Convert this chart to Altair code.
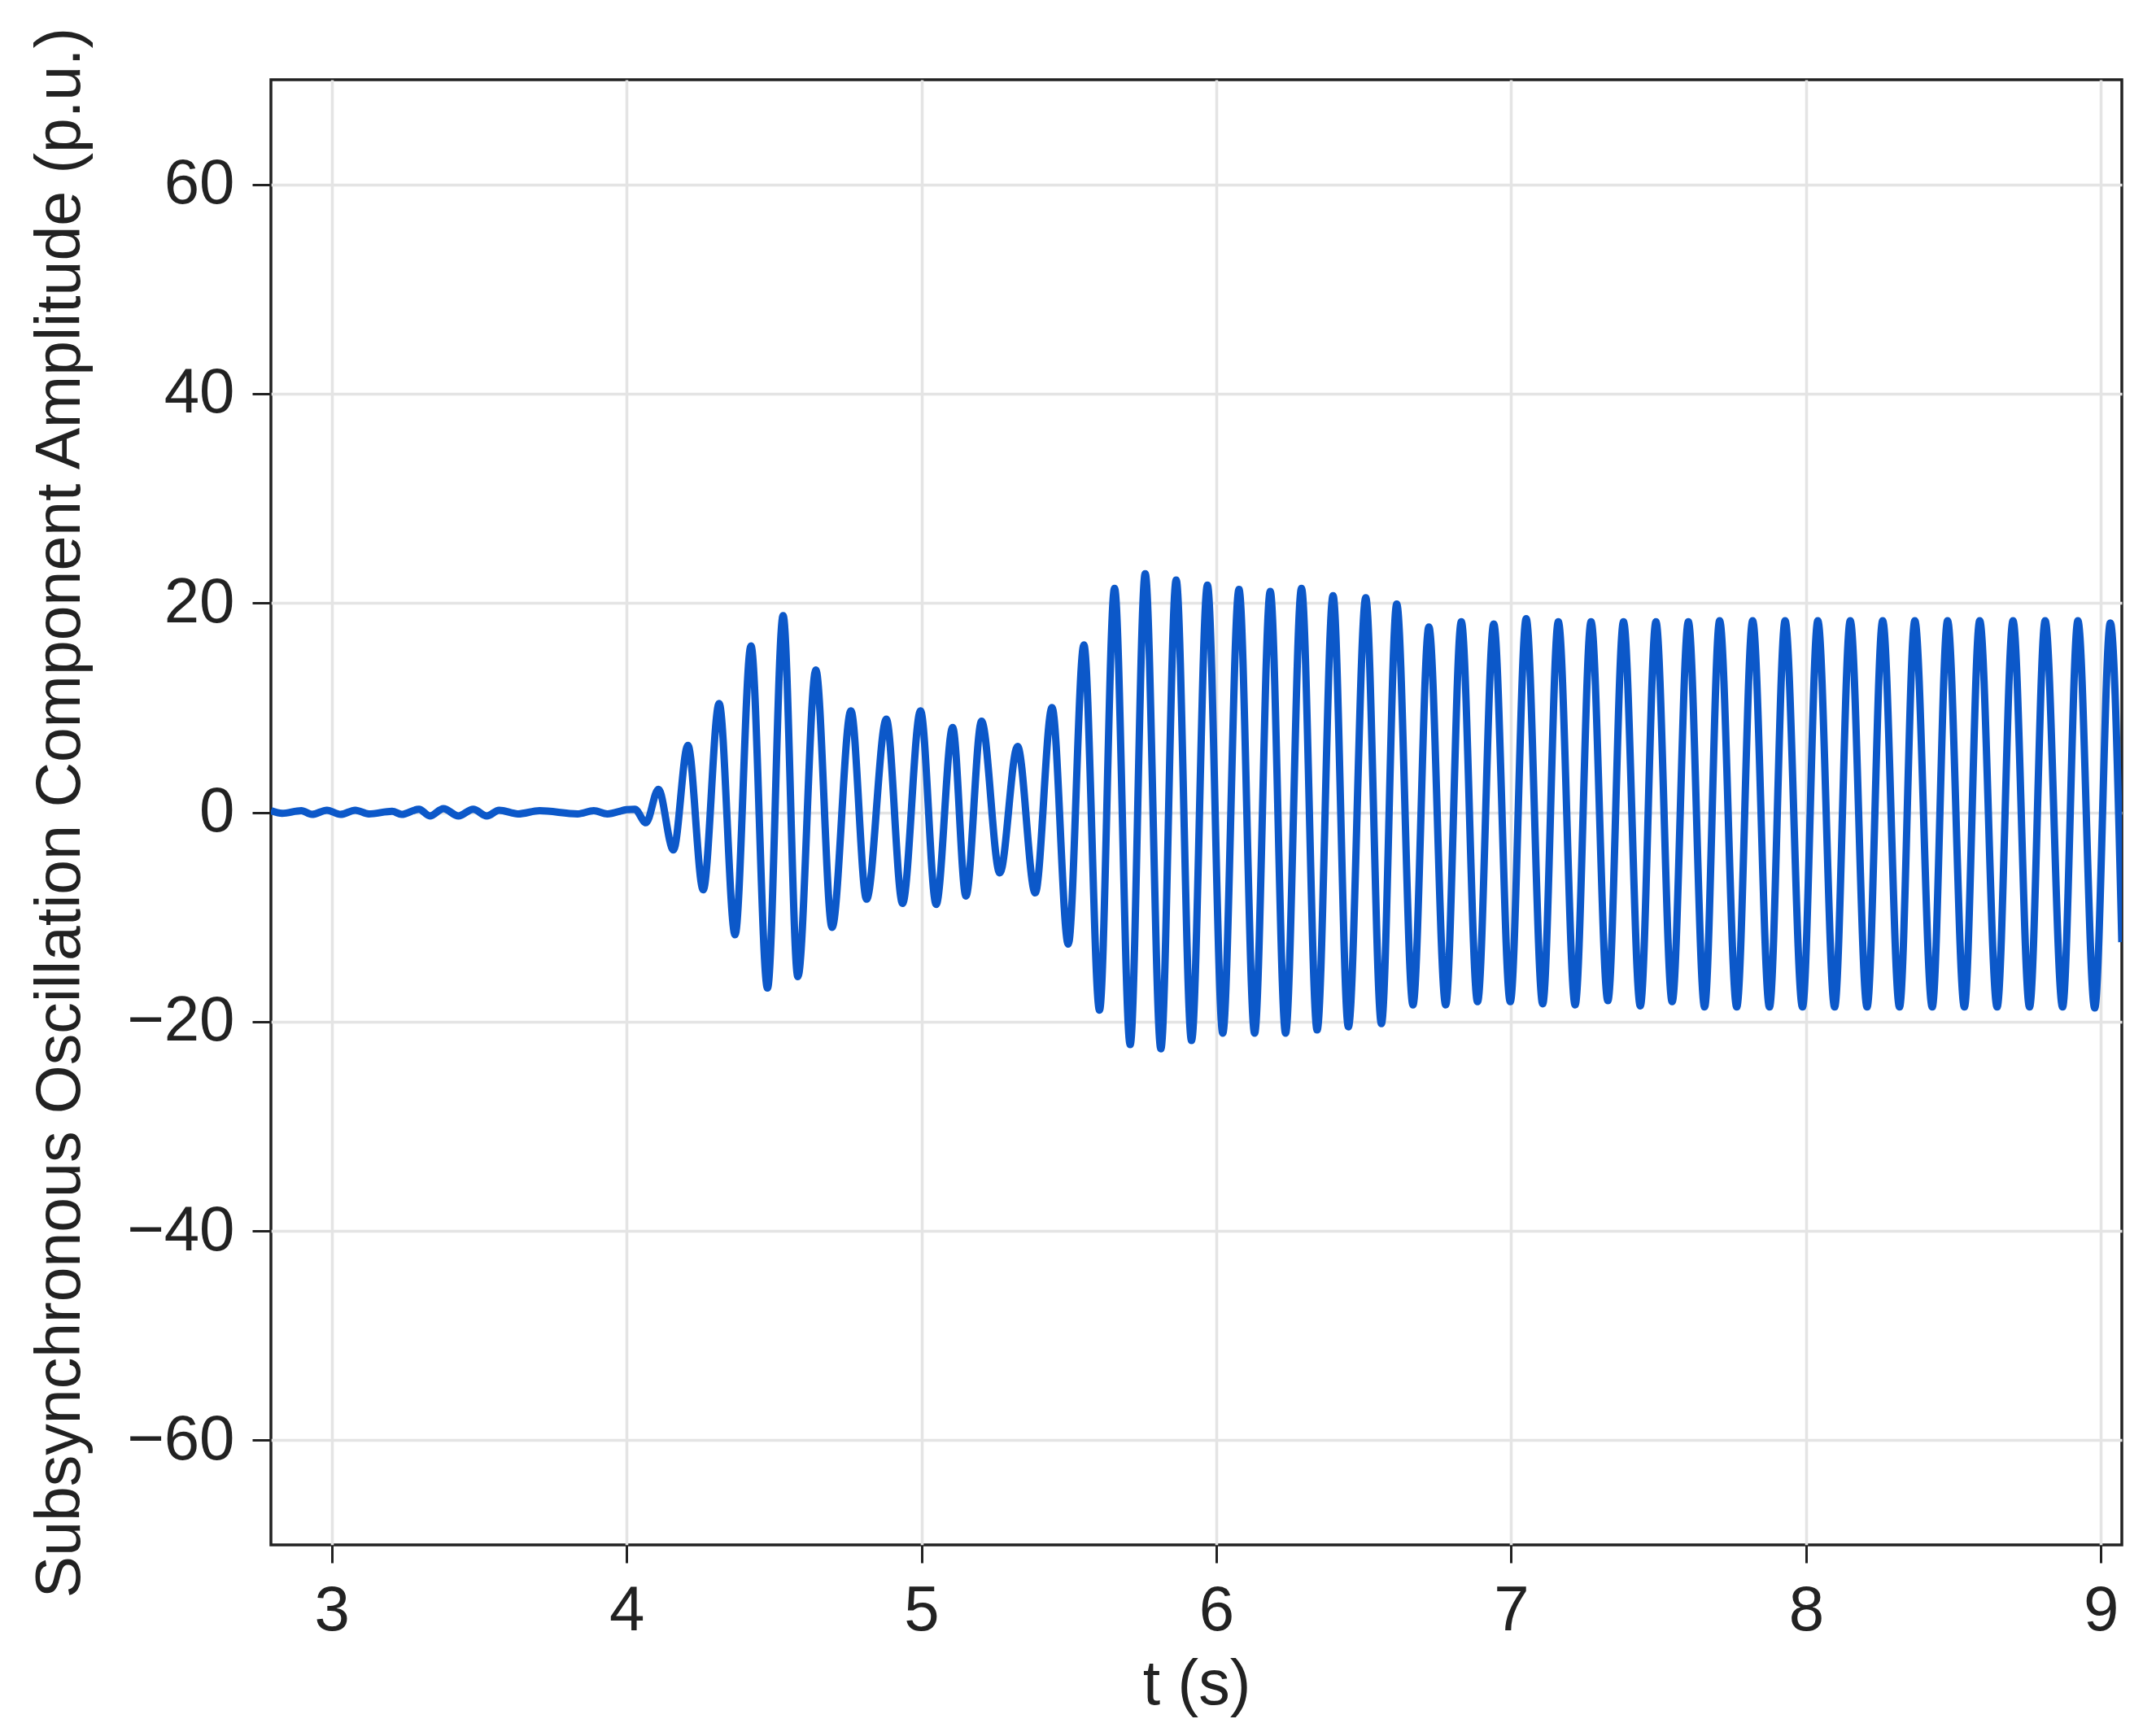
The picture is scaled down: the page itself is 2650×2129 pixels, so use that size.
import altair as alt
import pandas as pd

# Time (s) of each turning point of the waveform
t_values = [
    2.794, 2.832, 2.897, 2.933, 2.984, 3.030, 3.080, 3.126, 3.205, 3.237,
    3.296, 3.333, 3.379, 3.430, 3.480, 3.526, 3.568, 3.632, 3.705, 3.834,
    3.889, 3.935, 4.000, 4.028, 4.066, 4.108, 4.159, 4.208, 4.260, 4.314,
    4.368, 4.422, 4.478, 4.531, 4.581, 4.642, 4.697, 4.761, 4.814, 4.881,
    4.936, 4.997, 5.050, 5.106, 5.151, 5.204, 5.266, 5.326, 5.386, 5.443,
    5.498, 5.551, 5.604, 5.655, 5.708, 5.759, 5.812, 5.864, 5.916, 5.970,
    6.022, 6.077, 6.130, 6.183, 6.235, 6.289, 6.342, 6.396, 6.448, 6.507,
    6.560, 6.612, 6.667, 6.721, 6.778, 6.831, 6.886, 6.941, 6.997, 7.051,
    7.107, 7.160, 7.217, 7.271, 7.328, 7.381, 7.438, 7.491, 7.546, 7.601,
    7.656, 7.707, 7.765, 7.819, 7.876, 7.929, 7.988, 8.040, 8.097, 8.150,
    8.207, 8.260, 8.317, 8.369, 8.428, 8.480, 8.537, 8.589, 8.648, 8.702,
    8.758, 8.811, 8.870, 8.922, 8.979, 9.032, 9.071,
]

# Subsynchronous oscillation component amplitude (p.u.) at those times
amplitude_values = [
    0.15, -0.1, 0.15, -0.2, 0.2, -0.2, 0.2, -0.15, 0.1, -0.2,
    0.3, -0.35, 0.35, -0.35, 0.3, -0.35, 0.2, -0.15, 0.15, -0.15,
    0.15, -0.15, 0.25, 0.3, -1.0, 2.2, -3.6, 6.4, -7.4, 10.4,
    -11.7, 15.9, -16.8, 18.8, -15.7, 13.6, -11.0, 9.7, -8.3, 8.9,
    -8.7, 9.7, -8.8, 8.1, -8.0, 8.7, -5.8, 6.3, -7.7, 10.0,
    -12.6, 16.0, -18.9, 21.4, -22.2, 22.8, -22.6, 22.2, -21.8, 21.7,
    -21.1, 21.3, -21.1, 21.1, -21.1, 21.4, -20.8, 20.7, -20.5, 20.5,
    -20.2, 19.9, -18.4, 17.7, -18.4, 18.2, -18.1, 18.0, -18.1, 18.5,
    -18.3, 18.2, -18.4, 18.2, -18.0, 18.2, -18.5, 18.2, -18.1, 18.2,
    -18.6, 18.3, -18.6, 18.3, -18.6, 18.3, -18.6, 18.3, -18.6, 18.3,
    -18.6, 18.3, -18.6, 18.3, -18.6, 18.3, -18.6, 18.3, -18.6, 18.3,
    -18.6, 18.3, -18.6, 18.3, -18.7, 18.1, -12.4,
]

x_ticks = [3, 4, 5, 6, 7, 8, 9]
y_ticks = [-60, -40, -20, 0, 20, 40, 60]
x_domain = [2.794, 9.071]
y_domain = [-70, 70]

df = pd.DataFrame({"t": t_values, "amp": amplitude_values})

FONT = "Liberation Sans"
INK = "#222222"

chart = (
    alt.Chart(df)
    .mark_line(interpolate="monotone", color="#0c58c9", strokeWidth=9, clip=True)
    .encode(
        x=alt.X(
            "t:Q",
            scale=alt.Scale(domain=x_domain, nice=False, zero=False),
            axis=alt.Axis(
                values=x_ticks,
                title="t (s)",
                format="d",
                labelFlush=False,
                tickSize=22,
                labelPadding=20,
                titlePadding=14,
            ),
        ),
        y=alt.Y(
            "amp:Q",
            scale=alt.Scale(domain=y_domain, nice=False, zero=False),
            axis=alt.Axis(
                values=y_ticks,
                title="Subsynchronous Oscillation Component Amplitude (p.u.)",
                format="d",
                tickSize=23,
                labelPadding=22,
                titlePadding=42,
            ),
        ),
    )
    .properties(
        width=2275,
        height=1801,
        padding={"left": 325, "top": 90, "right": 33, "bottom": 222},
        autosize=alt.AutoSizeParams(type="none"),
    )
    .configure_view(stroke=INK, strokeWidth=3.5)
    .configure_axis(
        domain=False,
        grid=True,
        gridColor="#e4e4e4",
        gridWidth=3.5,
        tickColor=INK,
        tickWidth=3,
        labelFont=FONT,
        labelFontSize=78,
        labelColor=INK,
        titleFont=FONT,
        titleFontSize=77,
        titleFontWeight="normal",
        titleColor=INK,
    )
)

chart.save("out.html", embed_options={"renderer": "svg", "actions": False})
